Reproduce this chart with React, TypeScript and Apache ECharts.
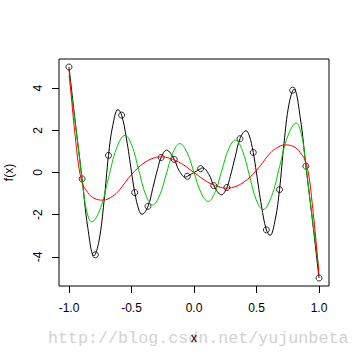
import React, { useEffect, useRef } from "react";
import * as echarts from "echarts";

const xTicks = [-1, -0.5, 0, 0.5, 1];
const yTicks = [-4, -2, 0, 2, 4];

const nodeX = [-1, -0.895, -0.789, -0.684, -0.579, -0.474, -0.368, -0.263, -0.158, -0.053, 0.053, 0.158, 0.263, 0.368, 0.474, 0.579, 0.684, 0.789, 0.895, 1];
const nodeY = [5.0, -0.3, -3.9, 0.81, 2.72, -0.95, -1.6, 0.71, 0.62, -0.18, 0.18, -0.62, -0.71, 1.6, 0.95, -2.72, -0.81, 3.9, 0.3, -5.0];

const blackX = [-1, -0.95, -0.895, -0.85, -0.8, -0.76, -0.72, -0.684, -0.65, -0.608, -0.579, -0.54, -0.5, -0.474, -0.44, -0.416, -0.368, -0.33, -0.29, -0.263, -0.22, -0.158, -0.12, -0.07, -0.053, 0, 0.053, 0.07, 0.12, 0.158, 0.22, 0.263, 0.29, 0.33, 0.368, 0.416, 0.44, 0.474, 0.5, 0.54, 0.579, 0.608, 0.65, 0.684, 0.72, 0.76, 0.8, 0.85, 0.895, 0.95, 1];
const blackY = [5.0, 2.4, -0.3, -2.6, -3.95, -3.24, -1.38, 0.81, 2.22, 2.98, 2.72, 1.59, 0.03, -0.95, -1.79, -1.98, -1.6, -0.75, 0.19, 0.71, 1.06, 0.62, 0.1, -0.22, -0.18, 0, 0.18, 0.22, -0.1, -0.62, -1.06, -0.71, -0.19, 0.75, 1.6, 1.98, 1.79, 0.95, -0.03, -1.59, -2.72, -2.98, -2.22, -0.81, 1.38, 3.24, 3.95, 2.6, 0.3, -2.4, -5.0];

const greenX = [-1, -0.94, -0.888, -0.86, -0.818, -0.75, -0.685, -0.62, -0.552, -0.497, -0.442, -0.386, -0.331, -0.277, -0.222, -0.168, -0.114, -0.057, 0, 0.057, 0.114, 0.168, 0.222, 0.277, 0.331, 0.386, 0.442, 0.497, 0.552, 0.62, 0.685, 0.75, 0.818, 0.86, 0.888, 0.94, 1];
const greenY = [4.6, 1.85, -0.68, -1.79, -2.34, -1.72, -0.29, 1.14, 1.76, 1.28, 0.11, -1.06, -1.54, -1.11, -0.085, 0.94, 1.37, 0.97, 0, -0.97, -1.37, -0.94, 0.085, 1.11, 1.54, 1.06, -0.11, -1.28, -1.76, -1.14, 0.29, 1.72, 2.34, 1.79, 0.68, -1.85, -4.6];

const redX = [-1, -0.95, -0.9, -0.85, -0.8, -0.73, -0.65, -0.6, -0.5, -0.4, -0.3, -0.26, -0.2, -0.1, 0, 0.1, 0.2, 0.26, 0.3, 0.4, 0.5, 0.6, 0.65, 0.73, 0.8, 0.85, 0.9, 0.95, 1];
const redY = [4.9, 1.7, -0.4, -0.95, -1.22, -1.31, -1.12, -0.85, -0.1, 0.45, 0.72, 0.74, 0.68, 0.42, 0, -0.42, -0.68, -0.74, -0.72, -0.45, 0.1, 0.85, 1.12, 1.31, 1.22, 0.95, 0.4, -1.7, -4.9];

const zip = (xs: number[], ys: number[]) => xs.map((x, i) => [x, ys[i]]);

export default function App() {
  const ref = useRef<HTMLDivElement>(null);
  useEffect(() => {
    if (!ref.current) return;
    const chart = echarts.init(ref.current, null, { renderer: "svg" });
    const font = "Liberation Sans";
    chart.setOption({
      animation: false,
      backgroundColor: "#fff",
      grid: { left: 59, top: 59, width: 270, height: 227, show: true, borderColor: "#000", borderWidth: 1, backgroundColor: "transparent", containLabel: false, outerBoundsMode: "none" },
      xAxis: {
        type: "value", min: -1.08, max: 1.08,
        axisLine: { show: false, onZero: false },
        axisTick: { show: true, customValues: xTicks, length: 7, lineStyle: { color: "#000", width: 1 } },
        axisLabel: { customValues: xTicks, formatter: (v: number) => v.toFixed(1), margin: 16, color: "#000", fontSize: 12, fontFamily: font },
        splitLine: { show: false },
        name: "x", nameLocation: "middle", nameGap: 46,
        nameTextStyle: { color: "#000", fontSize: 12, fontFamily: font },
      },
      yAxis: {
        type: "value", min: -5.38, max: 5.38,
        axisLine: { show: false, onZero: false },
        axisTick: { show: true, customValues: yTicks, length: 7, lineStyle: { color: "#000", width: 1 } },
        axisLabel: { customValues: yTicks, rotate: 90, margin: 15, color: "#000", fontSize: 12, fontFamily: font },
        splitLine: { show: false },
        name: "f(x)", nameLocation: "middle", nameGap: 44, nameRotate: 90,
        nameTextStyle: { color: "#000", fontSize: 12, fontFamily: font },
      },
      graphic: [
        { type: "text", left: 48, top: 330, silent: true, z: -1, style: { text: "http://blog.csdn.net/yujunbeta", fill: "#d2d2d2", font: '16.7px "Liberation Mono"' } },
      ],
      series: [
        { type: "line", data: zip(blackX, blackY), smooth: 0.4, symbol: "none", lineStyle: { color: "#000", width: 1 } },
        { type: "scatter", data: zip(nodeX, nodeY), symbol: "circle", symbolSize: 6, itemStyle: { color: "rgba(0,0,0,0)", borderColor: "#000", borderWidth: 1 } },
        { type: "line", data: zip(greenX, greenY), smooth: 0.4, symbol: "none", lineStyle: { color: "#00c800", width: 1 } },
        { type: "line", data: zip(redX, redY), smooth: 0.4, symbol: "none", lineStyle: { color: "#ff0000", width: 1 } },
      ],
    });
    return () => chart.dispose();
  }, []);
  return <div ref={ref} style={{ position: "absolute", left: 0, top: 0, width: 360, height: 360 }} />;
}
